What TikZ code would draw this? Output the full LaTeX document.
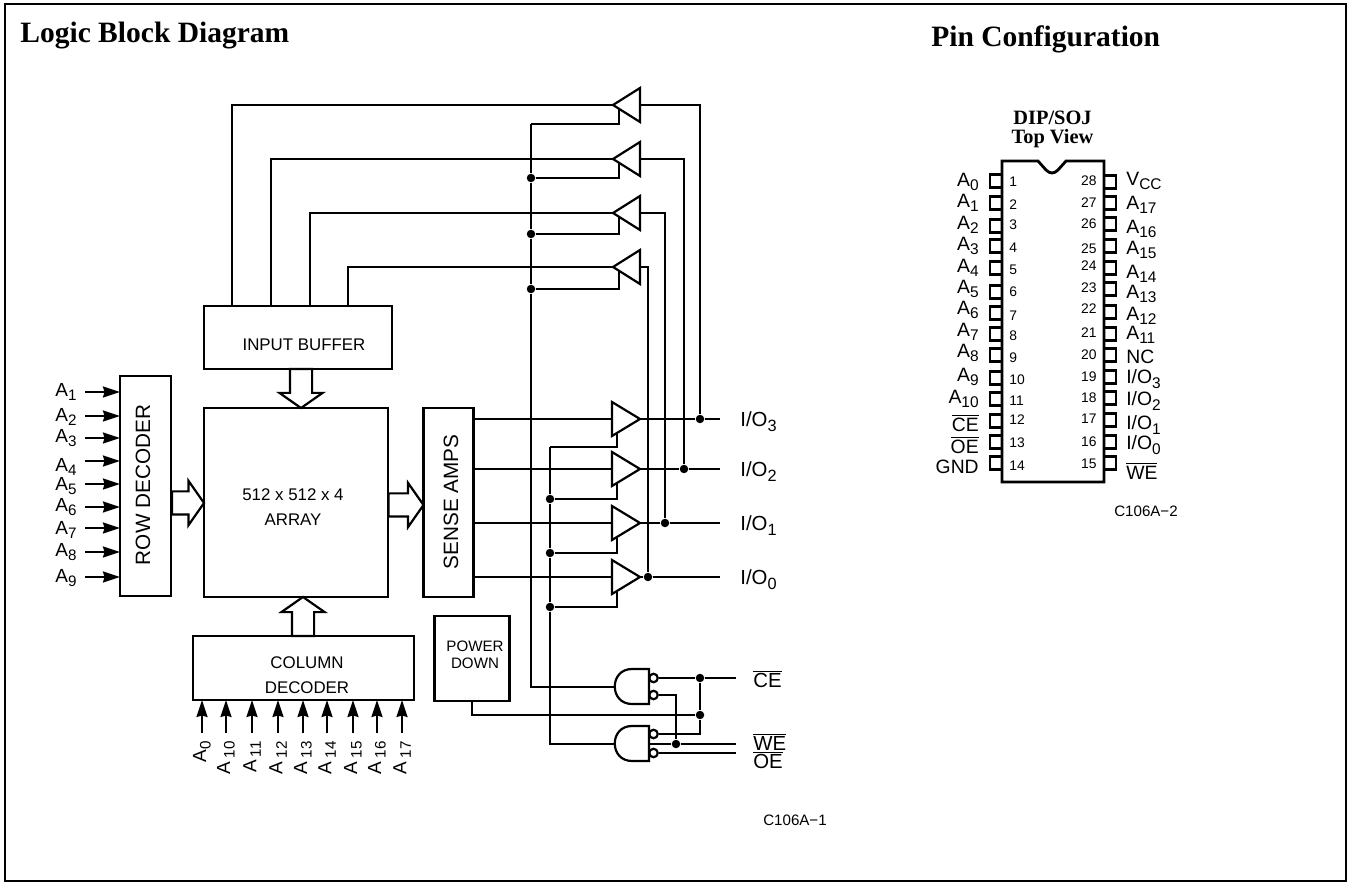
\documentclass[tikz,border=0pt]{standalone}
\usepackage{fontspec}
\setmainfont{Liberation Sans}
\newfontfamily\titlefont{Liberation Serif}
\usetikzlibrary{arrows.meta,shapes.geometric,shapes.arrows}
\newcommand{\subnum}[1]{\raisebox{-0.45ex}{\scalebox{0.8}{#1}}}
\newcommand{\barred}[1]{$\overline{\mbox{#1}}$}

\begin{document}
\begin{tikzpicture}[
    x=0.02cm, y=-0.02cm,
    wire/.style={line width=1.25pt, line join=miter},
    block/.style={draw, line width=1.6pt, inner sep=0pt, outer sep=0pt},
    txt/.style={inner sep=0pt, font=\fontsize{9.6}{14}\selectfont, align=center},
    bigtxt/.style={inner sep=0pt, font=\fontsize{11.8}{14}\selectfont, rotate=90},
    ioname/.style={inner sep=0pt, anchor=west, font=\fontsize{11.6}{14}\selectfont},
    addr/.style={inner sep=0pt, font=\fontsize{10.8}{12}\selectfont},
    hdr/.style={inner sep=0pt, anchor=west, font=\fontsize{16.8}{20}\titlefont\bfseries},
    code/.style={inner sep=0pt, font=\fontsize{8.6}{10}\selectfont},
    ibuf/.style={draw, wire, isosceles triangle, isosceles triangle stretches, shape border rotate=180, anchor=apex, minimum width=0.68cm, minimum height=0.54cm, inner sep=0pt, outer sep=0pt},
    obuf/.style={draw, wire, isosceles triangle, isosceles triangle stretches, anchor=apex, minimum width=0.68cm, minimum height=0.56cm, inner sep=0pt, outer sep=0pt},
    dot/.style={circle, fill=black, inner sep=0pt, minimum size=0.17cm},
    bubble/.style={circle, draw, wire, fill=white, inner sep=0pt, minimum size=0.17cm},
    bus/.style={single arrow, draw, wire, anchor=tip, inner sep=0pt, outer sep=0pt, single arrow head extend=0.21cm, single arrow tip angle=110},
    pinbox/.style={draw, wire, inner sep=0pt, minimum width=0.24cm, minimum height=0.26cm},
    pinnum/.style={inner sep=0pt, font=\fontsize{7.9}{9}\selectfont},
    pinname/.style={inner sep=0pt, font=\fontsize{11}{12}\selectfont},
    feed/.style={wire, -{Stealth[length=0.34cm,width=0.22cm,inset=0.03cm]}},
]
  \useasboundingbox (0,0) rectangle (1352,884);
  \node[draw, line width=1.5pt, minimum width=26.82cm, minimum height=17.54cm, inner sep=0pt] (frame) at (675.5,442.5) {};
  \node[hdr] (logictitle) at (20,36) {Logic Block Diagram};
  \node[hdr] (pintitle) at (931,39) {Pin Configuration};

  \node[block, minimum width=3.76cm, minimum height=1.26cm] (inbuf) at (298,337.5) {};
  \node[txt] (inbuftxt) at (304,345) {INPUT BUFFER};
  \node[block, minimum width=3.68cm, minimum height=3.78cm] (array) at (296,502.5) {};
  \node[txt] (arraytxt) at (293,507) {512 x 512 x 4\\ARRAY};
  \node[block, minimum width=1.02cm, minimum height=4.4cm] (rowdec) at (145.5,486) {};
  \node[bigtxt] (rowtxt) at (143,485) {ROW DECODER};
  \node[block, minimum width=1cm, minimum height=3.78cm] (sense) at (448.5,502.5) {};
  \node[bigtxt] (sensetxt) at (451,502) {SENSE AMPS};
  \node[block, minimum width=4.42cm, minimum height=1.28cm] (coldec) at (303.5,668) {};
  \node[txt] (coltxt) at (307,675) {COLUMN\\DECODER};
  \node[block, minimum width=1.5cm, minimum height=1.7cm] (pwr) at (472,658.5) {};
  \node[txt, font=\fontsize{8.6}{9.6}\selectfont] (pwrtxt) at (475,655) {POWER\\DOWN};

  \node[bus, shape border rotate=0, inner ysep=0.21cm, minimum height=0.64cm] (rowbus) at (array.west |- 0,503) {};
  \node[bus, shape border rotate=0, inner ysep=0.21cm, minimum height=0.7cm] (arrbus) at (sense.west |- 0,505) {};
  \node[bus, shape border rotate=270, inner xsep=0.2cm, minimum height=0.78cm] (inbus) at (array.north -| 301,0) {};
  \node[bus, shape border rotate=90, inner xsep=0.2cm, minimum height=0.78cm] (colbus) at (array.south -| 303,0) {};

  \foreach \i/\y/\lab/\ly in {1/392/1/392, 2/416/2/417, 3/438/3/438, 4/461/4/467, 5/484/5/486, 6/507/6/507, 7/528/7/530, 8/552/8/552, 9/577/9/578} {
    \node[addr, anchor=west] (ra\i) at (55,\ly) {A\subnum{\lab}};
    \coordinate (rs\i) at (85,\y);
    \draw[feed] (rs\i) -- (rs\i -| rowdec.west);
  }
  \foreach \i/\x/\lab in {1/202/{A\subnum{0}}, 2/226/{A\,\subnum{10}}, 3/252/{A\,\subnum{11}}, 4/278/{A\,\subnum{12}}, 5/303/{A\,\subnum{13}}, 6/327/{A\,\subnum{14}}, 7/353/{A\,\subnum{15}}, 8/377/{A\,\subnum{16}}, 9/402/{A\,\subnum{17}}} {
    \node[addr, rotate=90, anchor=east] (ca\i) at (\x,741) {\lab};
    \coordinate (cs\i) at (\x,733);
    \draw[feed] (cs\i) -- (cs\i |- coldec.south);
  }

  \foreach \i/\y/\x in {1/105/232, 2/159/271, 3/213/310, 4/267/348} {
    \node[ibuf] (ib\i) at (613,\y) {};
    \coordinate (ibe\i) at (619,\y+4);
    \draw[wire] (ib\i.apex) -| (inbuf.north -| \x,0);
  }
  \foreach \i/\y in {1/419, 2/469, 3/523, 4/577} {
    \node[obuf] (ob\i) at (640,\y) {};
    \coordinate (obe\i) at (617,\y+15);
    \draw[wire] (ob\i.lower side) -- (ob\i.lower side -| sense.east);
  }

  \coordinate (rdtop) at (531,124);
  \node[dot] (rd2) at (531,178) {};
  \node[dot] (rd3) at (531,234) {};
  \node[dot] (rd4) at (531,289) {};
  \coordinate (wetop) at (550,447);
  \node[dot] (wd2) at (550,499) {};
  \node[dot] (wd3) at (550,553) {};
  \node[dot] (wd4) at (550,607) {};
  \draw[wire] (ibe1) |- (rdtop);
  \foreach \i in {2,3,4} \draw[wire] (ibe\i) |- (rd\i);
  \draw[wire] (obe1) |- (wetop);
  \foreach \i in {2,3,4} \draw[wire] (obe\i) |- (wd\i);

  \draw[wire] (649,669) -- (632,669) .. controls (609,669) and (609,704) .. (632,704) -- (649,704) -- cycle;
  \draw[wire] (649,726) -- (632,726) .. controls (609,726) and (609,761) .. (632,761) -- (649,761) -- cycle;
  \coordinate (g1in) at (614.5,687);
  \coordinate (g2in) at (614.5,744);
  \coordinate (g2mid) at (649,744);
  \node[bubble] (b1) at (653.5,678) {};
  \node[bubble] (b2) at (653.5,695) {};
  \node[bubble] (b3) at (653.5,734) {};
  \node[bubble] (b4) at (653.5,753) {};
  \draw[wire] (rdtop) -- (rd2) -- (rd3) -- (rd4) |- (g1in);
  \draw[wire] (wetop) -- (wd2) -- (wd3) -- (wd4) |- (g2in);

  \foreach \i/\x/\name/\lab in {1/700/3/419, 2/684/2/469, 3/665/1/523, 4/648/0/577} {
    \node[dot] (do\i) at (\x,\lab) {};
    \coordinate (ioend\i) at (720,\lab);
    \draw[wire] (ob\i.apex) -- (do\i) -- (ioend\i);
    \draw[wire] (ib\i.lower side) -| (do\i);
    \node[ioname] (io\i) at (740,\lab+3) {I/O\subnum{\name}};
  }

  \node[dot] (dce) at (700,678) {};
  \node[dot] (dpd) at (700,715) {};
  \node[dot] (dwe) at (676,744) {};
  \coordinate (ceend) at (736,678);
  \coordinate (weend) at (736,744);
  \coordinate (oeend) at (736,753);
  \draw[wire] (b1.east) -- (dce) -- (ceend);
  \draw[wire] (b2.east) -| (dwe);
  \draw[wire] (g2mid) -- (dwe) -- (weend);
  \draw[wire] (b3.east) -| (dpd) -- (dce);
  \draw[wire] (b4.east) -- (oeend);
  \draw[wire] (pwr.south -| 472,0) |- (dpd);
  \node[ioname] (cepin) at (753,679) {\barred{CE}};
  \node[ioname] (wepin) at (753,742) {\barred{WE}};
  \node[ioname] (oepin) at (753,760) {\barred{OE}};
  \node[code] (code1) at (795,820) {C106A−1};

  \node[inner sep=0pt, align=center, font=\fontsize{11.6}{10.8}\titlefont\bfseries] (dip) at (1052.5,129.5) {DIP/SOJ\\Top View};
  \draw[block] (1002,161) -- (1038,161) -- (1046,170) .. controls (1050,174) and (1054,174) .. (1058,170) -- (1066,161) -- (1104,161) -- (1104,482) -- (1002,482) -- cycle;
  \foreach \n/\y/\ly/\ny/\lab in {
    1/181/182/182/A\subnum{0}, 2/203/203/205/A\subnum{1}, 3/226/225/225/A\subnum{2}, 4/246/246/248/A\subnum{3},
    5/268/268/270/A\subnum{4}, 6/292/289/292/A\subnum{5}, 7/313/310/316/A\subnum{6}, 8/334/332/336/A\subnum{7},
    9/355/353/358/A\subnum{8}, 10/378/377/380/A\subnum{9}, 11/399/399/401/A\subnum{10}, 12/421/423/420/\barred{CE},
    13/442/445/443/\barred{OE}, 14/463/467/466/GND} {
    \node[pinbox] (lp\n) at (996,\y) {};
    \node[pinnum, anchor=west] (ln\n) at (1009,\ny) {\n};
    \node[pinname, anchor=east] (ll\n) at (979,\ly) {\lab};
  }
  \foreach \n/\y/\ly/\ny/\lab in {
    28/182/181/181/V\subnum{CC}, 27/203/205/203/A\subnum{17}, 26/224/229/224/A\subnum{16}, 25/246/250/249/A\subnum{15},
    24/268/274/266/A\subnum{14}, 23/289/294/288/A\subnum{13}, 22/312/316/309/A\subnum{12}, 21/334/335/333/A\subnum{11},
    20/355/357/355/NC, 19/377/379/377/{I/O\subnum{3}}, 18/398/401/398/{I/O\subnum{2}}, 17/420/425/419/{I/O\subnum{1}},
    16/442/445/442/{I/O\subnum{0}}, 15/463/471/464/\barred{WE}} {
    \node[pinbox] (rp\n) at (1110,\y) {};
    \node[pinnum, anchor=east] (rn\n) at (1097,\ny) {\n};
    \node[pinname, anchor=west] (rl\n) at (1126,\ly) {\lab};
  }
  \node[code] (code2) at (1146,511) {C106A−2};
\end{tikzpicture}
\end{document}
